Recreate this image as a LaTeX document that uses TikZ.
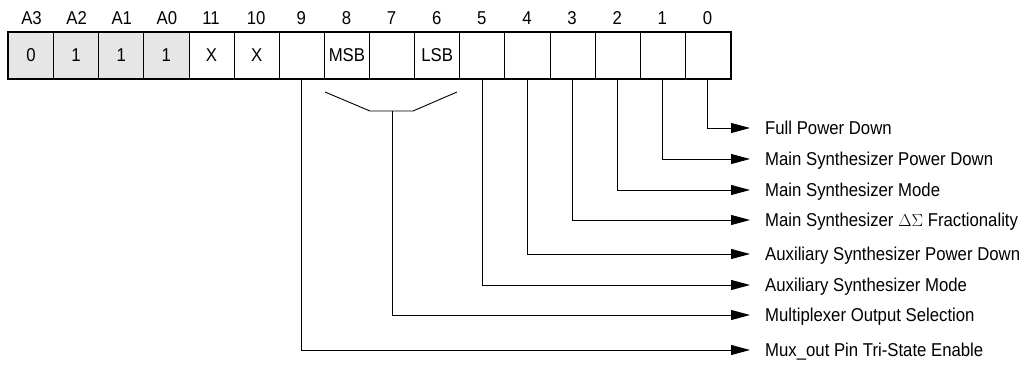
\documentclass[tikz,border=0pt]{standalone}
\usepackage{fontspec}
\setmainfont{Liberation Sans}[FakeStretch=0.9]
\usetikzlibrary{arrows.meta}

\definecolor{addrgray}{HTML}{E6E6E6}
\tikzset{
  regcell/.style={draw, line width=0.9pt, minimum width=45.125pt, minimum height=46pt,
    inner sep=0pt, anchor=north west},
  bitnum/.style={inner sep=0pt},
  flaglabel/.style={anchor=west, inner xsep=15pt, inner ysep=0pt, text height=13.3pt, text depth=0pt},
  feed/.style={line width=0.9pt, -{Triangle[length=19pt,width=10pt]}}
}

\begin{document}
\begin{tikzpicture}[x=1pt, y=-1pt, font=\fontsize{18.6}{21}\selectfont]
\useasboundingbox (0,0) rectangle (1026,367);

\foreach \k/\name/\lbl/\v in {0/a3/A3/0, 1/a2/A2/1, 2/a1/A1/1, 3/a0/A0/1}
{
  \node[regcell, fill=addrgray] (\name) at (8+45.125*\k, 32) {\v};
  \node[bitnum] (h\name) at (31.56+45.125*\k, 18) {\lbl};
}
\foreach \k/\name/\lbl/\v in {4/b11/11/X, 5/b10/10/X, 6/b9/9/{}, 7/b8/8/MSB, 8/b7/7/{},
  9/b6/6/LSB, 10/b5/5/{}, 11/b4/4/{}, 12/b3/3/{}, 13/b2/2/{}, 14/b1/1/{}, 15/b0/0/{}}
{
  \node[regcell] (\name) at (8+45.125*\k, 32) {\v};
  \node[bitnum] (h\name) at (30.56+45.125*\k, 18) {\lbl};
}
\draw[line width=1.8pt] (a3.north west) rectangle (b0.south east);

\node[flaglabel] (l0) at (750,128) {Full Power Down};
\node[flaglabel] (l1) at (750,159) {Main Synthesizer Power Down};
\node[flaglabel] (l2) at (750,190) {Main Synthesizer Mode};
\node[flaglabel] (l3) at (750,220) {Main Synthesizer $\Delta\Sigma$ Fractionality};
\node[flaglabel] (l4) at (750,254) {Auxiliary Synthesizer Power Down};
\node[flaglabel] (l5) at (750,285) {Auxiliary Synthesizer Mode};
\node[flaglabel] (l7) at (750,315) {Multiplexer Output Selection};
\node[flaglabel] (l9) at (750,350) {Mux\_out Pin Tri-State Enable};

\coordinate (msbend) at (325,92);
\coordinate (lsbend) at (457,92);
\coordinate (bj) at (b7.south |- 0,111);
\draw[line width=0.9pt] (msbend) -- (370,111) -- (413,111) -- (lsbend);

\draw[feed] (b0.south) |- (l0.west);
\draw[feed] (b1.south) |- (l1.west);
\draw[feed] (b2.south) |- (l2.west);
\draw[feed] (b3.south) |- (l3.west);
\draw[feed] (b4.south) |- (l4.west);
\draw[feed] (b5.south) |- (l5.west);
\draw[feed] (bj) |- (l7.west);
\draw[feed] (b9.south) |- (l9.west);
\end{tikzpicture}
\end{document}
